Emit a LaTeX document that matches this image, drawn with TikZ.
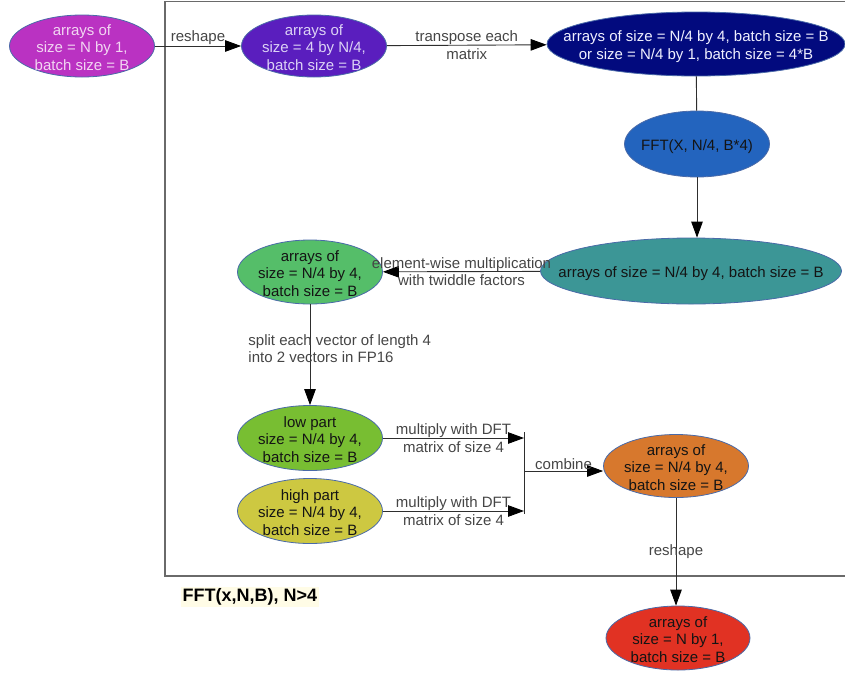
\documentclass[tikz,border=0pt]{standalone}
\usepackage{fontspec}
\setmainfont{Liberation Sans}
\usetikzlibrary{shapes.geometric,arrows.meta}
\definecolor{c1}{HTML}{BA32C2}
\definecolor{c2}{HTML}{5A1EBE}
\definecolor{c3}{HTML}{020A7E}
\definecolor{c4}{HTML}{2364BE}
\definecolor{c5}{HTML}{3C9696}
\definecolor{c6}{HTML}{55BE69}
\definecolor{c7}{HTML}{78BE32}
\definecolor{c8}{HTML}{CDC841}
\definecolor{c9}{HTML}{D7782D}
\definecolor{c10}{HTML}{E13223}
\definecolor{t1}{HTML}{F2D6F2}
\definecolor{t2}{HTML}{DCD2F5}
\definecolor{t3}{HTML}{F0F0FF}
\definecolor{tdark}{HTML}{141414}
\definecolor{linegray}{HTML}{2E2E2E}
\definecolor{lblgray}{HTML}{454545}
\definecolor{edgeblue}{HTML}{4A6AA8}
\definecolor{boxgray}{HTML}{6A6A6A}
\definecolor{ttbg}{HTML}{FFFCE6}
\newcommand{\nfont}{\fontsize{15}{17.5}\selectfont}
\newcommand{\tfont}{\fontsize{18}{21}\selectfont\bfseries}
\newcommand{\ctx}[1]{\makebox[0pt]{\smash{\raisebox{-0.45em}{\begin{tabular}[c]{@{}c@{}}#1\end{tabular}}}}}
\begin{document}
\begin{tikzpicture}[x=1pt,y=-1pt,
  every node/.style={font=\nfont},
  blob/.style={ellipse, draw=edgeblue, line width=0.8pt, inner sep=0pt, text=tdark},
  conn/.style={draw=linegray, line width=0.9pt},
  arr/.style={conn, -{Triangle[length=16pt,width=11.5pt,color=black]}},
  lbl/.style={text=lblgray, align=center, inner sep=1pt, font=\nfont}]
\useasboundingbox (0,0) rectangle (845,675);
\draw[boxgray, line width=1.3pt] (846,1.5) -- (165,1.5) -- (165,576) -- (846,576);

\node[blob, fill=c1, text=t1, minimum width=145, minimum height=62] (n1) at (82,46) {\ctx{arrays of\\size = N by 1,\\batch size = B}};
\node[blob, fill=c2, text=t2, minimum width=145, minimum height=62] (n2) at (314,46) {\ctx{arrays of\\size = 4 by N/4,\\batch size = B}};
\node[blob, fill=c3, text=t3, minimum width=298, minimum height=64] (n3) at (696,44) {\ctx{arrays of size = N/4 by 4, batch size = B\\or size = N/4 by 1, batch size = 4*B}};
\node[blob, fill=c4, minimum width=145, minimum height=66] (n4) at (697,144) {\ctx{FFT(X, N/4, B*4)}};
\node[blob, fill=c5, minimum width=301, minimum height=66] (n5) at (691,271) {\ctx{arrays of size = N/4 by 4, batch size = B}};
\node[blob, fill=c6, minimum width=145, minimum height=64] (n6) at (310,272) {\ctx{arrays of\\size = N/4 by 4,\\batch size = B}};
\node[blob, fill=c7, minimum width=145, minimum height=65] (n7) at (310,438) {\ctx{low part\\size = N/4 by 4,\\batch size = B}};
\node[blob, fill=c8, minimum width=145, minimum height=65] (n8) at (310,511) {\ctx{high part\\size = N/4 by 4,\\batch size = B}};
\node[blob, fill=c9, minimum width=145, minimum height=63] (n9) at (676,466) {\ctx{arrays of\\size = N/4 by 4,\\batch size = B}};
\node[blob, fill=c10, minimum width=144, minimum height=64] (n10) at (678,638) {\ctx{arrays of\\size = N by 1,\\batch size = B}};

\coordinate (j1) at (524,438);
\coordinate (j2) at (524,511);
\coordinate (jt) at (524,432);
\coordinate (jb) at (524,514);
\coordinate (jc) at (524,471);

\draw[arr] (n1) -- node[lbl, above] {reshape} (n2);
\draw[arr] (n2) -- node[lbl] {transpose each\\matrix} (n3);
\draw[conn] (n3) -- (n4);
\draw[arr] (n4) -- (n4.south |- n5.north);
\draw[arr] (n5) -- node[lbl] {element-wise multiplication\\with twiddle factors} (n6);
\draw[arr] (n6) -- node[lbl, pos=0.44, anchor=west, xshift=-63pt, align=left] {split each vector of length 4\\into 2 vectors in FP16} (n7);
\draw[arr] (n7) -- node[lbl] {multiply with DFT\\matrix of size 4} (j1);
\draw[arr] (n8) -- node[lbl] {multiply with DFT\\matrix of size 4} (j2);
\draw[conn] (jt) -- (jb);
\draw[arr] (jc) -- node[lbl, above] {combine} (jc -| n9.west);
\draw[arr] (n9.south) -- node[lbl] {reshape} (n9.south |- n10.north);

\node[font=\tfont, fill=ttbg, inner sep=1.5pt, text=black] (title) at (250,597) {FFT(x,N,B), N>4};
\end{tikzpicture}
\end{document}
